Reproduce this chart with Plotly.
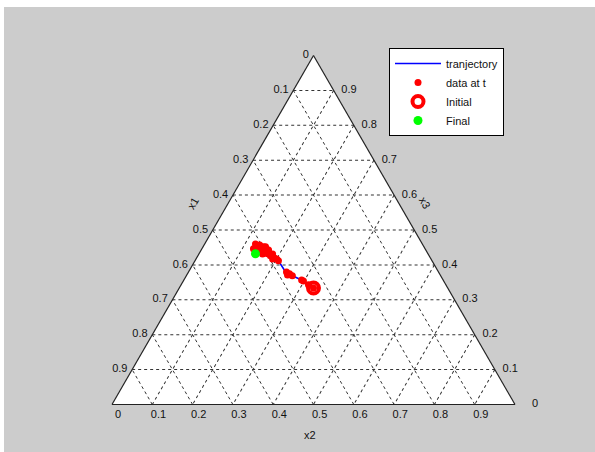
import plotly.graph_objects as go

# Composition trajectory (x1, x2, x3), initial state first, final state last
x1 = [0.333, 0.341, 0.348, 0.351, 0.368, 0.372, 0.377, 0.379, 0.381, 0.387,
      0.394, 0.393, 0.398, 0.402, 0.393, 0.386, 0.383, 0.390, 0.393, 0.404,
      0.409, 0.414, 0.405, 0.398, 0.410, 0.415, 0.394, 0.410, 0.421, 0.411,
      0.416, 0.426, 0.428]
x2 = [0.333, 0.316, 0.298, 0.292, 0.263, 0.253, 0.243, 0.250, 0.207, 0.193,
      0.180, 0.190, 0.170, 0.158, 0.170, 0.183, 0.200, 0.167, 0.155, 0.151,
      0.136, 0.126, 0.138, 0.150, 0.147, 0.137, 0.161, 0.152, 0.139, 0.158,
      0.144, 0.128, 0.140]
x3 = [0.334, 0.343, 0.354, 0.357, 0.369, 0.375, 0.380, 0.371, 0.412, 0.420,
      0.426, 0.417, 0.432, 0.440, 0.437, 0.431, 0.417, 0.443, 0.452, 0.445,
      0.455, 0.460, 0.457, 0.452, 0.443, 0.448, 0.445, 0.438, 0.440, 0.431,
      0.440, 0.446, 0.432]

# Tick values and their printed labels for each side of the triangle
fracs = [0.0, 0.1, 0.2, 0.3, 0.4, 0.5, 0.6, 0.7, 0.8, 0.9]
labels = ["0", "0.1", "0.2", "0.3", "0.4", "0.5", "0.6", "0.7", "0.8", "0.9"]
right_fracs = [0.1, 0.2, 0.3, 0.4, 0.5, 0.6, 0.7, 0.8, 0.9, 1.0]
right_labels = ["0.9", "0.8", "0.7", "0.6", "0.5", "0.4", "0.3", "0.2", "0.1", "0"]

NB = "\u00a0"
left_text = [t + NB for t in labels]
bottom_text = [NB * 4 + t for t in labels]
right_text = [NB * 2 + t for t in right_labels[:-1]] + [NB * 5 + right_labels[-1]]

BG = "#cccccc"
GRID = "#333333"
FONT = dict(family="Liberation Sans, Arial, sans-serif", size=11, color="#111111")

fig = go.Figure()

fig.add_trace(go.Scatterternary(
    a=x3, b=x1, c=x2, mode="lines", name="tranjectory",
    line=dict(color="#0000ff", width=1.6)))
fig.add_trace(go.Scatterternary(
    a=x3, b=x1, c=x2, mode="markers", name="data at t",
    marker=dict(color="#ff0000", size=7)))
fig.add_trace(go.Scatterternary(
    a=x3[:1], b=x1[:1], c=x2[:1], mode="markers", name="Initial",
    marker=dict(symbol="circle-open", color="#ff0000", size=11,
                line=dict(color="#ff0000", width=4))))
fig.add_trace(go.Scatterternary(
    a=x3[-1:], b=x1[-1:], c=x2[-1:], mode="markers", name="Final",
    marker=dict(color="#00ff00", size=9)))

axis_common = dict(
    showline=True, linecolor="#222222", linewidth=1.2,
    showgrid=True, gridcolor=GRID, gridwidth=1, griddash="3px,3px",
    tickmode="array", ticks="", tickfont=FONT, title=dict(text=""),
    min=0,
)

fig.update_layout(
    width=595, height=452,
    margin=dict(l=0, r=0, t=0, b=0),
    paper_bgcolor=BG,
    font=FONT,
    showlegend=True,
    ternary=dict(
        sum=1,
        bgcolor="white",
        domain=dict(x=[112 / 595, 515 / 595], y=[1 - 405 / 452, 1 - 55 / 452]),
        aaxis=dict(axis_common, tickvals=[1 - f for f in fracs], ticktext=left_text),
        baxis=dict(axis_common, tickvals=[1 - f for f in fracs], ticktext=bottom_text),
        caxis=dict(axis_common, tickvals=right_fracs, ticktext=right_text),
    ),
    legend=dict(
        x=389 / 595, y=1 - 48 / 452, xanchor="left", yanchor="top",
        bgcolor="white", bordercolor="#000000", borderwidth=1,
        font=FONT, itemwidth=46, tracegroupgap=0,
    ),
    shapes=[
        dict(type="rect", xref="paper", yref="paper", x0=0, x1=1,
             y0=1 - 7 / 452, y1=1, fillcolor="white", line=dict(width=0),
             layer="below"),
        dict(type="rect", xref="paper", yref="paper", x0=0, x1=4 / 595,
             y0=0, y1=1, fillcolor="white", line=dict(width=0),
             layer="below"),
    ],
    annotations=[
        dict(text="x2", x=310 / 595, y=1 - 435 / 452, xref="paper", yref="paper",
             xanchor="center", yanchor="middle", showarrow=False, font=FONT),
        dict(text="x1", x=193 / 595, y=1 - 203 / 452, xref="paper", yref="paper",
             xanchor="center", yanchor="middle", showarrow=False, font=FONT,
             textangle=-60),
        dict(text="x3", x=425 / 595, y=1 - 203 / 452, xref="paper", yref="paper",
             xanchor="center", yanchor="middle", showarrow=False, font=FONT,
             textangle=60),
    ],
)

fig.write_html("out.html")
